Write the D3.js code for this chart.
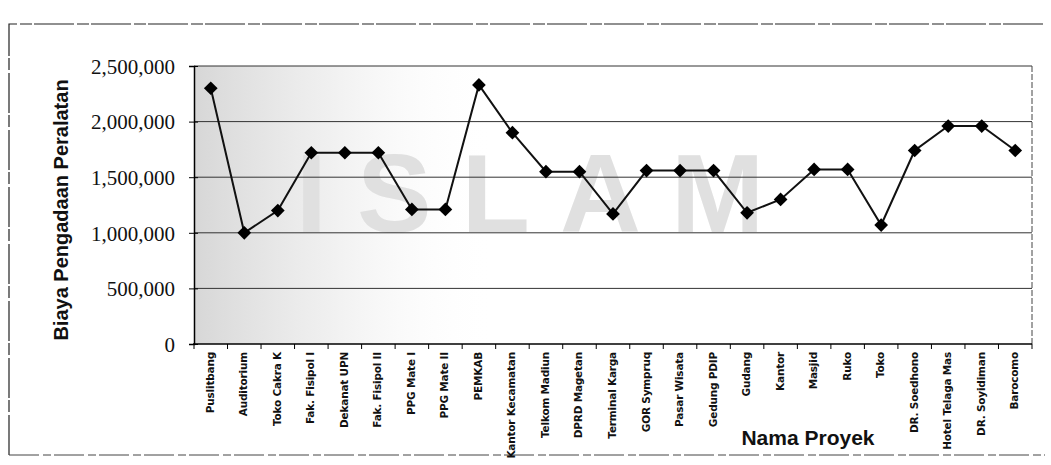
<!DOCTYPE html>
<html>
<head>
<meta charset="utf-8">
<script src="https://cdn.jsdelivr.net/npm/d3@7"></script>
<style>
    body { margin: 0; background: #fff; }
    svg { display: block; }
</style>
</head>
<body>
<svg id="chart" width="1051" height="465"></svg>
<script>
"use strict";
var categories = ["Puslitbang", "Auditorium", "Toko Cakra K", "Fak. Fisipol I", "Dekanat UPN", "Fak. Fisipol II",
    "PPG Mate I", "PPG Mate II", "PEMKAB", "Kantor Kecamatan", "Telkom Madiun", "DPRD Magetan", "Terminal Karga",
    "GOR Sympruq", "Pasar Wisata", "Gedung PDIP", "Gudang", "Kantor", "Masjid", "Ruko", "Toko",
    "DR. Soedhono", "Hotel Telaga Mas", "DR. Soyidiman", "Barocomo"];
var biaya = [2300000, 1000000, 1200000, 1720000, 1720000, 1720000, 1210000, 1210000, 2330000, 1900000,
    1550000, 1550000, 1170000, 1560000, 1560000, 1560000, 1180000, 1300000, 1570000, 1570000, 1070000,
    1740000, 1960000, 1960000, 1740000];
var yTicks = [0, 500000, 1000000, 1500000, 2000000, 2500000];

var svg = d3.select("#chart");
var margin = { left: 194, top: 66, right: 1032, bottom: 344 };

var x = d3.scaleBand().domain(categories).range([margin.left, margin.right]);
var y = d3.scaleLinear().domain([0, 2500000]).range([margin.bottom, margin.top]);

//  Outer frame  ---
svg.append("path")
    .attr("d", "M 9,455 L 9,24 L 1045,24")
    .attr("fill", "none")
    .attr("stroke", "#222")
    .attr("stroke-width", 1.2)
    .attr("stroke-dasharray", "40,3,12,2");
svg.append("line")
    .attr("x1", 9).attr("x2", 1045).attr("y1", 455).attr("y2", 455)
    .attr("stroke", "#444").attr("stroke-width", 1).attr("stroke-dasharray", "30,4,8,3");

//  Scan shading on the left of the plot  ---
var grad = svg.append("defs").append("linearGradient").attr("id", "shade");
grad.append("stop").attr("offset", "0%").attr("stop-color", "#9a9a9a").attr("stop-opacity", 0.4);
grad.append("stop").attr("offset", "45%").attr("stop-color", "#bbb").attr("stop-opacity", 0.22);
grad.append("stop").attr("offset", "100%").attr("stop-color", "#fff").attr("stop-opacity", 0);
svg.append("rect")
    .attr("x", margin.left).attr("y", margin.top)
    .attr("width", x("Kantor Kecamatan") - margin.left).attr("height", margin.bottom - margin.top)
    .attr("fill", "url(#shade)");

//  Watermark  ---
svg.append("text")
    .attr("x", 545).attr("y", 232)
    .attr("text-anchor", "middle")
    .attr("font-family", "Liberation Sans, Arial, sans-serif")
    .attr("font-weight", "bold")
    .attr("font-size", 112)
    .attr("letter-spacing", 30)
    .attr("fill", "#e0e0e0")
    .text("ISLAM");

//  Gridlines  ---
svg.append("g").selectAll("line").data(yTicks.slice(1))
    .enter().append("line")
    .attr("x1", margin.left).attr("x2", margin.right)
    .attr("y1", function (d) { return y(d); })
    .attr("y2", function (d) { return y(d); })
    .attr("stroke", "#333")
    .attr("stroke-width", 1);

svg.append("line")
    .attr("x1", margin.right).attr("x2", margin.right)
    .attr("y1", margin.top).attr("y2", margin.bottom)
    .attr("stroke", "#444").attr("stroke-dasharray", "6,2");

//  Axes  ---
var yAxis = d3.axisLeft(y).tickValues(yTicks).tickSize(5).tickFormat(d3.format(","));
var gy = svg.append("g")
    .attr("transform", "translate(" + margin.left + ",0)")
    .call(yAxis);
gy.select(".domain").attr("stroke", "#000").attr("stroke-width", 1.5);
gy.selectAll(".tick line").attr("x2", 4).attr("x1", -5).attr("stroke", "#000");
gy.selectAll(".tick text")
    .attr("x", -19)
    .attr("dy", "0.35em")
    .attr("font-family", "Liberation Serif, Times New Roman, serif")
    .attr("font-size", 21)
    .attr("fill", "#111");

var bounds = categories.map(function (c) { return x(c); }).concat([margin.right]);
var gx = svg.append("g");
gx.append("line")
    .attr("x1", margin.left - 1).attr("x2", margin.right)
    .attr("y1", margin.bottom).attr("y2", margin.bottom)
    .attr("stroke", "#000").attr("stroke-width", 1.5);
gx.selectAll(".tk").data(bounds)
    .enter().append("line")
    .attr("class", "tk")
    .attr("x1", function (d) { return d; }).attr("x2", function (d) { return d; })
    .attr("y1", margin.bottom).attr("y2", margin.bottom + 5)
    .attr("stroke", "#000");
gx.selectAll("text").data(categories)
    .enter().append("text")
    .attr("transform", function (d) {
        return "translate(" + (x(d) + x.bandwidth() / 2 + 3) + "," + (margin.bottom + 8) + ") rotate(-90)";
    })
    .attr("text-anchor", "end")
    .attr("font-family", "DejaVu Sans, sans-serif")
    .attr("font-weight", "bold")
    .attr("font-size", 10.5)
    .attr("letter-spacing", -0.2)
    .attr("fill", "#111")
    .text(function (d) { return d; });

//  Axis titles  ---
svg.append("text")
    .attr("transform", "translate(68,210) rotate(-90)")
    .attr("text-anchor", "middle")
    .attr("font-family", "Liberation Sans, Arial, sans-serif")
    .attr("font-weight", "bold")
    .attr("font-size", 20)
    .attr("fill", "#111")
    .text("Biaya Pengadaan Peralatan");
svg.append("text")
    .attr("x", 808).attr("y", 445)
    .attr("text-anchor", "middle")
    .attr("font-family", "Liberation Sans, Arial, sans-serif")
    .attr("font-weight", "bold")
    .attr("font-size", 21)
    .attr("fill", "#111")
    .text("Nama Proyek");

//  Series  ---
var line = d3.line()
    .x(function (d, i) { return x(categories[i]) + x.bandwidth() / 2; })
    .y(function (d) { return y(d); });
svg.append("path")
    .datum(biaya)
    .attr("d", line)
    .attr("fill", "none")
    .attr("stroke", "#111")
    .attr("stroke-width", 2);

svg.append("g").selectAll("path").data(biaya)
    .enter().append("path")
    .attr("d", d3.symbol(d3.symbolDiamond2, 120))
    .attr("transform", function (d, i) {
        return "translate(" + (x(categories[i]) + x.bandwidth() / 2) + "," + y(d) + ")";
    })
    .attr("fill", "#000");
</script>
</body>
</html>
